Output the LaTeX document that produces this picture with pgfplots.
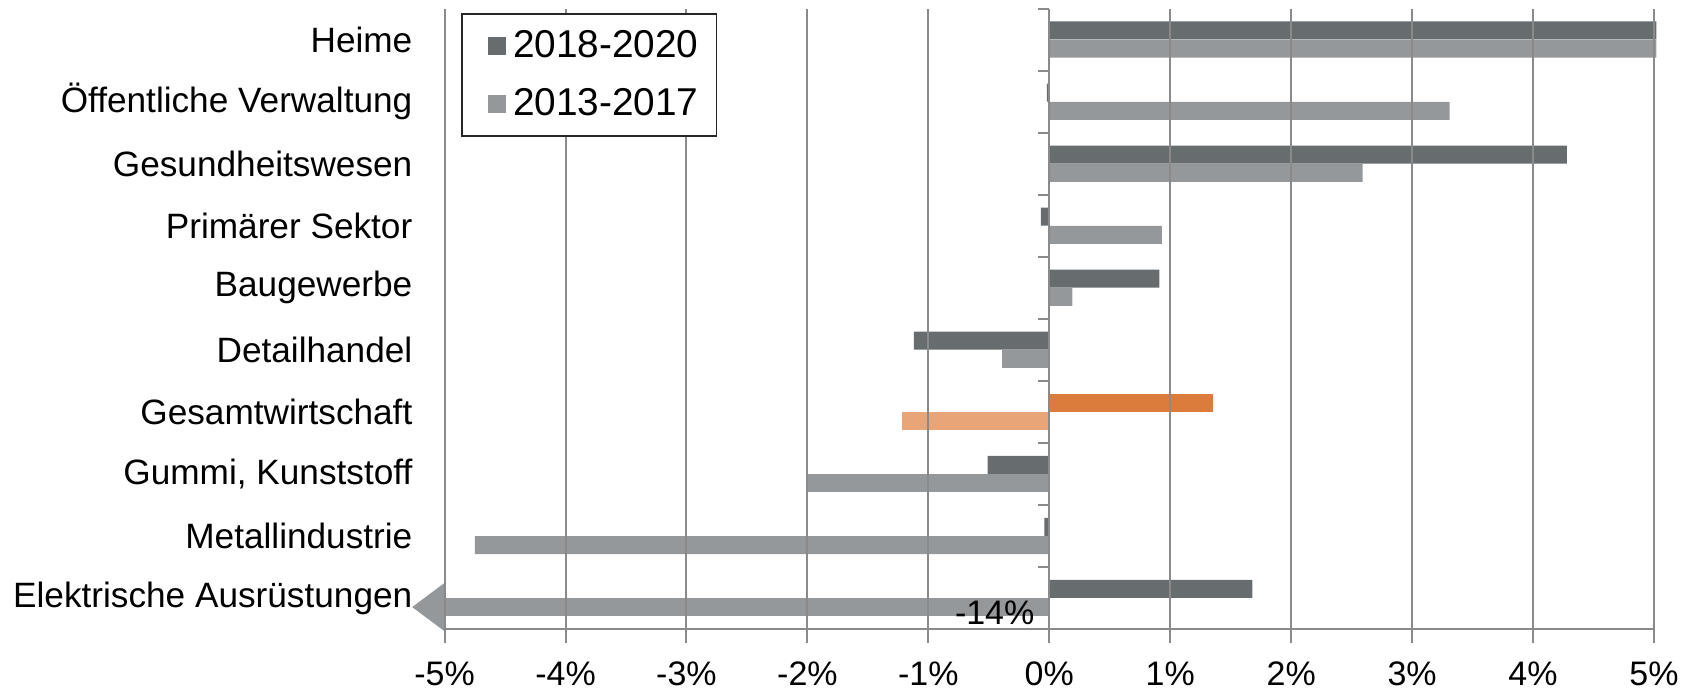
\documentclass[border=0pt]{standalone}
\usepackage{pgfplots}
\pgfplotsset{compat=1.18}
\usepackage{fontspec}
\setmainfont{Liberation Sans}
\usetikzlibrary{arrows.meta,calc}
\definecolor{darkbar}{RGB}{103,108,111}
\definecolor{lightbar}{RGB}{149,152,154}
\definecolor{orangebar}{RGB}{219,124,61}
\definecolor{lorangebar}{RGB}{232,165,119}
\definecolor{gridgray}{RGB}{138,138,138}
\newcommand{\lblfont}{\fontsize{17}{20}\selectfont}
\newcommand{\catfont}{\fontsize{17.6}{21}\selectfont}
\newcommand{\legfont}{\fontsize{19.4}{23}\selectfont}
\begin{document}
\begin{tikzpicture}[font=\lblfont]
\begin{axis}[
  name=main,
  scale only axis,
  width=604.7pt, height=310.2pt,
  xmin=-5, xmax=5, ymin=-0.5, ymax=9.5,
  clip=false,
  axis on top,
  axis x line=bottom, axis y line=left,
  x axis line style={-, draw=gridgray, line width=1pt},
  y axis line style={draw=none},
  xtick={-5,-4,...,5},
  xticklabels={-5\%,-4\%,-3\%,-2\%,-1\%,0\%,1\%,2\%,3\%,4\%,5\%},
  xtick align=outside,
  x tick style={draw=gridgray, line width=1pt},
  major tick length=7pt,
  xmajorgrids,
  grid style={draw=gridgray, line width=1pt},
  ytick={0,...,9},
  yticklabels={Elektrische Ausrüstungen, Metallindustrie, {Gummi, Kunststoff}, Gesamtwirtschaft, Detailhandel, Baugewerbe, Primärer Sektor, Gesundheitswesen, Öffentliche Verwaltung, Heime},
  y tick style={draw=none},
  ytick align=inside,
  yticklabel style={font=\catfont, xshift=-5.6pt},
  xticklabel style={font=\lblfont, yshift=-6pt},
  legend style={at={(0.0136,0.993)}, anchor=north west, font=\legfont,
    draw=black!85, line width=0.8pt, inner xsep=7pt, inner ysep=6.5pt,
    row sep=10pt, cells={anchor=west}},
  xbar, bar width=0.29,
]
\addplot[xbar, bar shift=0.147, fill=darkbar, draw=none,
  legend image code/.code={\path (0pt,0pt); \fill[darkbar] (6pt,-4.5pt) rectangle (15pt,4.5pt); \path (16.6pt,0pt);}]
  coordinates {(1.68,0) (-0.04,1) (-0.51,2) (-1.12,4) (0.91,5) (-0.07,6) (4.28,7) (-0.02,8) (5.02,9)};
\addlegendentry{2018-2020}
\addplot[xbar, bar shift=-0.147, fill=lightbar, draw=none,
  legend image code/.code={\path (0pt,0pt); \fill[lightbar] (6pt,-4.5pt) rectangle (15pt,4.5pt); \path (16.6pt,0pt);}]
  coordinates {(-4.75,1) (-2.01,2) (-0.39,4) (0.19,5) (0.93,6) (2.59,7) (3.31,8) (5.02,9)};
\addlegendentry{2013-2017}
\addplot[xbar, bar shift=0.147, fill=orangebar, draw=none, forget plot]
  coordinates {(1.35,3)};
\addplot[xbar, bar shift=-0.147, fill=lorangebar, draw=none, forget plot]
  coordinates {(-1.22,3)};
\addplot[sharp plot, no marks, draw=lightbar, line width=9pt, forget plot,
  -{Triangle[width=24pt, length=17pt]}]
  coordinates {(0,-0.147) (-5.27,-0.147)};
\node[anchor=base east, inner sep=0pt] at (axis cs:-0.12,-0.42) {-14\%};
\end{axis}
\begin{axis}[
  at={(main.south west)}, anchor=south west,
  scale only axis,
  width=604.7pt, height=310.2pt,
  xmin=-5, xmax=5, ymin=-0.5, ymax=9.5,
  axis x line=none, axis y line=middle,
  axis line style={-, draw=gridgray, line width=1pt},
  ytick={-0.5,0.5,...,9.5},
  yticklabels={},
  y tick style={draw=gridgray, line width=1pt},
  major tick length=5.5pt,
  ytick align=outside,
]
\end{axis}
\pgfresetboundingbox
\path[use as bounding box] ($(main.south west)+(-222.3pt,-31.5pt)$) rectangle ($(main.north east)+(19pt,4.3pt)$);
\end{tikzpicture}
\end{document}
